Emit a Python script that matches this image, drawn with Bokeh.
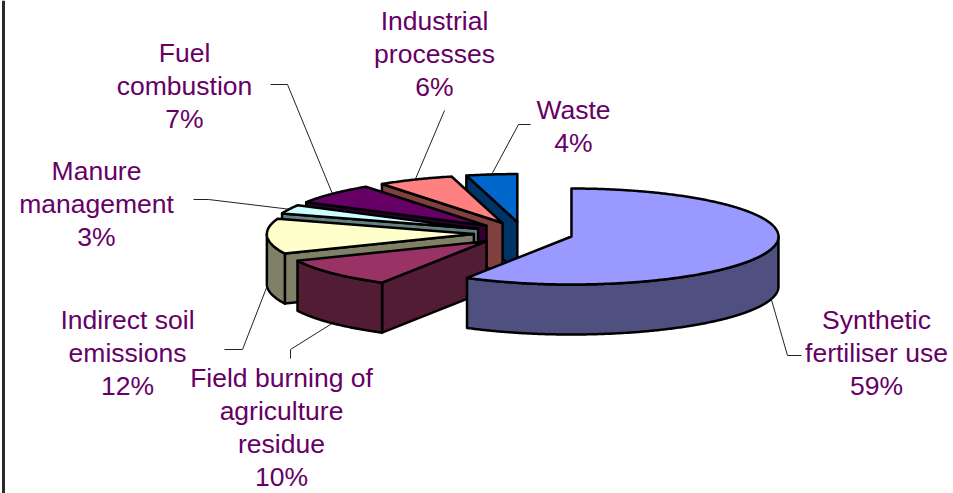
import numpy as np
from bokeh.core.properties import value
from bokeh.embed import file_html
from bokeh.plotting import figure
from bokeh.resources import INLINE

# N2O emission shares by source, clockwise from twelve o'clock
sources = [
    ["Synthetic", "fertiliser use"],
    ["Field burning of", "agriculture", "residue"],
    ["Indirect soil", "emissions"],
    ["Manure", "management"],
    ["Fuel", "combustion"],
    ["Industrial", "processes"],
    ["Waste"],
]
shares = [59, 10, 12, 3, 7, 6, 4]
top_colors = ["#9999FF", "#993366", "#FFFFCC", "#CCFFFF", "#660066", "#FF8080", "#0066CC"]
wall_colors = ["#4F4F80", "#521C35", "#808066", "#668080", "#330033", "#804040", "#003366"]

# Label layout: centre x, first line y, and the leader's elbow points
label_x = [876, 281, 127, 96, 184, 434, 573]
label_y = [319, 377, 319, 170, 52, 20, 109]
leader_elbows = [
    [(787, 355), (801, 355)],
    [(290, 349), (290, 358)],
    [(242, 349), (224, 349)],
    [(208, 199), (193, 199)],
    [(287, 84), (270, 84)],
    [(444, 110), (444, 110)],
    [(518, 124), (530, 124)],
]

# Projection of the tilted, exploded pie, in screen pixels
CX, CY = 523, 233
RX, RY = 207, 48
DEPTH = 50
EXPLODE = 0.24
LINE_GAP = 33.2


def rim(theta):
    """Offset from a slice's apex to its rim at a clockwise angle in degrees."""
    t = np.radians(theta)
    return RX * np.sin(t), -RY * np.cos(t)


def arc(a, b, apex):
    angles = np.linspace(a, b, max(int(abs(b - a) * 2), 2))
    dx, dy = rim(angles)
    return apex[0] + dx, apex[1] + dy


p = figure(width=953, height=493, x_range=(0, 953), y_range=(493, 0),
           output_backend="svg", toolbar_location=None, min_border=0,
           x_axis_type=None, y_axis_type=None, outline_line_color=None)
p.grid.visible = False

# Frame edge running down the left of the chart
p.segment([3], [0], [3], [493], line_color="#2A2A2A", line_width=3)

total = sum(shares)
edges = np.cumsum([0] + shares) / total * 360
slices = []
for i in range(len(shares)):
    start, end = edges[i], edges[i + 1]
    mid = (start + end) / 2
    ox, oy = rim(mid)
    slices.append((start, end, mid, (CX + EXPLODE * ox, CY + EXPLODE * oy)))

# Leader lines sit under the slices and run from the rim out to each label
for i, (start, end, mid, apex) in enumerate(slices):
    mx, my = rim(mid)
    ax, ay = apex[0] + mx, apex[1] + my
    if 90 < mid < 270:
        ay += DEPTH
    pts = [(ax, ay)] + leader_elbows[i]
    p.line([q[0] for q in pts], [q[1] for q in pts], line_color="#222222", line_width=1)

# Back-to-front: the large slice at the front is drawn last
for i in sorted(range(len(slices)), key=lambda k: -k):
    start, end, mid, apex = slices[i]
    style = dict(line_color="black", line_width=2.5, line_join="round")

    # Cut face along the slice's first edge, when it looks towards the viewer
    if 180 < start < 360:
        dx, dy = rim(start)
        xs = [apex[0], apex[0] + dx, apex[0] + dx, apex[0]]
        ys = [apex[1], apex[1] + dy, apex[1] + dy + DEPTH, apex[1] + DEPTH]
        p.patch(xs, ys, fill_color=wall_colors[i], **style)

    # Outer wall, only along the front half of the rim
    a, b = max(start, 90), min(end, 270)
    if b > a:
        ax_, ay_ = arc(a, b, apex)
        xs = np.concatenate([ax_, ax_[::-1]])
        ys = np.concatenate([ay_, ay_[::-1] + DEPTH])
        p.patch(xs, ys, fill_color=wall_colors[i], **style)

    # Top face
    ax_, ay_ = arc(start, end, apex)
    p.patch(np.concatenate([[apex[0]], ax_]), np.concatenate([[apex[1]], ay_]),
            fill_color=top_colors[i], **style)

# Category name lines followed by the percentage
tx, ty, tt = [], [], []
for name, share, x, y in zip(sources, shares, label_x, label_y):
    for n, line in enumerate(name + [f"{share}%"]):
        tx.append(x)
        ty.append(y + n * LINE_GAP)
        tt.append(line)
p.text(tx, ty, text=tt, text_color="#660066", text_font=value("Liberation Sans"),
       text_font_size="26.5px", text_align="center", text_baseline="middle")

open("out.html", "w").write(file_html(p, INLINE))
